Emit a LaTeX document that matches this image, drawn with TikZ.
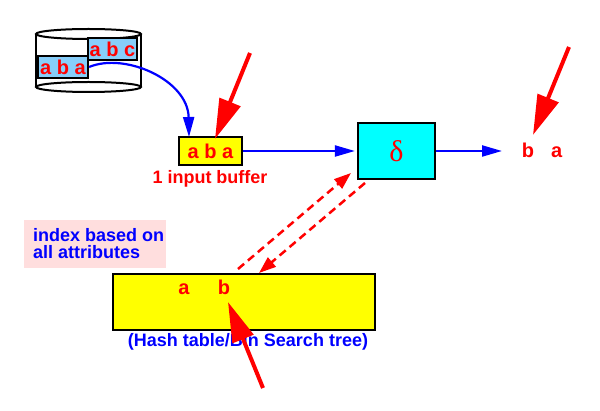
\documentclass[tikz,border=0pt]{standalone}
\usepackage{fontspec}
\setmainfont{Liberation Sans}
\newfontfamily\greekserif{Liberation Serif}
\usetikzlibrary{arrows.meta}
\definecolor{lblue}{RGB}{135,206,250}
\definecolor{lpink}{RGB}{255,222,222}
\definecolor{cyanbox}{RGB}{0,255,255}
\definecolor{yellowbox}{RGB}{255,255,0}
\definecolor{redc}{RGB}{255,0,0}
\definecolor{bluec}{RGB}{0,0,255}
\tikzset{
  lbl/.style={font=\bfseries\fontsize{18}{18}\selectfont, inner sep=0pt},
  letters/.style={font=\bfseries\fontsize{20}{20}\selectfont, text=redc, inner sep=0pt},
  boxb/.style={draw=black, line width=2.2pt, inner sep=0pt},
  bluearrow/.style={draw=bluec, line width=2.2pt, -{Triangle[length=20pt,width=11pt]}},
  bigred/.style={draw=redc, line width=4pt, -{Triangle[length=40pt,width=22pt]}},
  dashred/.style={draw=redc, line width=2.5pt, dash pattern=on 8pt off 5pt, -{Triangle[length=17pt,width=12pt]}},
}
\begin{document}
\begin{tikzpicture}[x=1pt,y=-1pt]
\useasboundingbox (0,0) rectangle (600,411);
% cylinder
\draw[line width=2pt] (88.5,34) ellipse [x radius=52.5, y radius=5];
\draw[line width=2pt] (88.5,87) ellipse [x radius=52.5, y radius=5];
\draw[line width=2pt] (36,34) -- (36,87);
\draw[line width=2pt] (141,34) -- (141,87);
\node[boxb, fill=lblue, minimum width=49pt, minimum height=22pt, letters] (abc) at (112.5,49) {a b c};
\node[boxb, fill=lblue, minimum width=50pt, minimum height=22pt, letters] (aba) at (63,67) {a b a};
% buffer
\node[boxb, fill=yellowbox, minimum width=63pt, minimum height=28pt, letters] (buf) at (210.5,151) {a b a};
\node[lbl, text=redc, anchor=base] (buflbl) at (210,184) {1 input buffer};
% delta
\node[boxb, fill=cyanbox, minimum width=77pt, minimum height=56pt, text=redc, font=\greekserif\fontsize{30}{30}\selectfont] (delta) at (396.5,151) {δ};
\node[letters, anchor=base] (out) at (542,158) {b\hspace{17pt}a};
\coordinate (outend) at (502,151);
% hash table
\node[boxb, fill=yellowbox, minimum width=262pt, minimum height=56pt] (hash) at (244,302) {};
\node[letters, anchor=base] (ha) at (184,295) {a};
\node[letters, anchor=base] (hb) at (224,295) {b};
\node[lbl, text=bluec, anchor=base] (hashlbl) at (248,347) {(Hash table/Bin Search tree)};
% pink note
\node[fill=lpink, minimum width=142pt, minimum height=48pt, inner sep=0pt] (pink) at (95,244) {};
\node[lbl, text=bluec, anchor=base west, align=left] (idx1) at (33,242) {index based on};
\node[lbl, text=bluec, anchor=base west, align=left] (idx2) at (33,259) {all attributes};
% blue arrows
\draw[bluearrow] (aba.east) .. controls (125,52) and (188,80) .. (189,137);
\draw[bluearrow] (buf.east) -- ([xshift=-2pt]delta.west);
\draw[bluearrow] (delta.east) -- (outend);
% big red arrows
\coordinate (r1s) at (250,53); \coordinate (r1e) at (215,139);
\coordinate (r2s) at (569,47); \coordinate (r2e) at (533,135);
\coordinate (r3s) at (263,388); \coordinate (r3e) at (228,302);
\draw[bigred] (r1s) -- (r1e);
\draw[bigred] (r2s) -- (r2e);
\draw[bigred] (r3s) -- (r3e);
% dashed arrows
\coordinate (d1s) at (238,269); \coordinate (d1e) at (351,173);
\coordinate (d2s) at (365,183); \coordinate (d2e) at (259,273);
\draw[dashred] (d1s) -- (d1e);
\draw[dashred] (d2s) -- (d2e);
\end{tikzpicture}
\end{document}
